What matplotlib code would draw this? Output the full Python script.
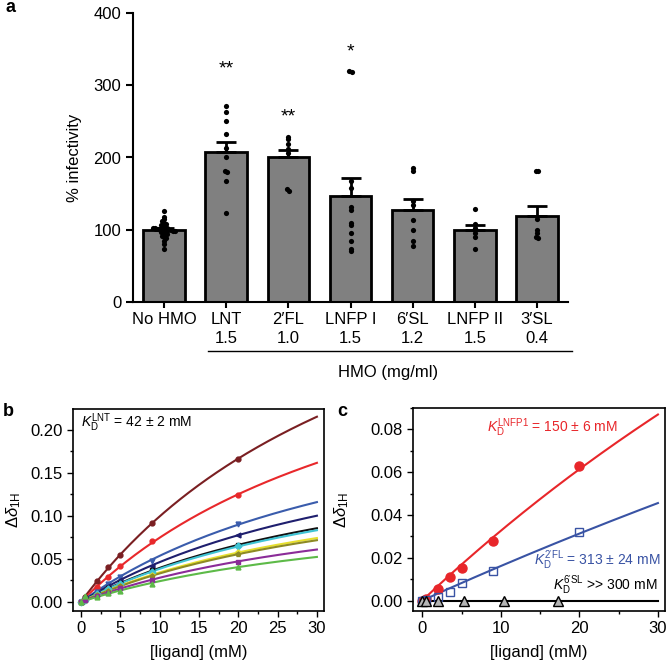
import numpy as np
import matplotlib
matplotlib.use("Agg")
import matplotlib.pyplot as plt
import matplotlib.transforms as mtrans
from matplotlib.ticker import MultipleLocator

plt.rcParams['font.family'] = ['Liberation Sans', 'DejaVu Sans']
plt.rcParams['mathtext.fontset'] = 'custom'
plt.rcParams['mathtext.rm'] = 'Liberation Sans'
plt.rcParams['mathtext.it'] = 'Liberation Sans:italic'
plt.rcParams['mathtext.bf'] = 'Liberation Sans:bold'

# ---- panel a data ----
hmo_names = ["No HMO", "LNT", "2\u2032FL", "LNFP I", "6\u2032SL", "LNFP II", "3\u2032SL"]
hmo_doses = ["", "1.5", "1.0", "1.5", "1.2", "1.5", "0.4"]
bar_means = [100, 208, 201, 147, 127, 100, 119]
bar_sem = [2, 14, 10, 24, 15, 7, 14]
stars = ["", "**", "**", "*", "", "", ""]
star_y = [0, 322, 256, 346, 0, 0, 0]
points_a = [
    [126, 118, 115, 112, 110, 108, 106, 105, 104, 103, 102, 102, 101, 101, 100,
     100, 100, 99, 99, 98, 98, 97, 96, 95, 94, 92, 90, 88, 84, 80, 73],
    [271, 263, 250, 232, 213, 201, 182, 180, 167, 123],
    [229, 226, 218, 212, 206, 156, 154],
    [320, 318, 167, 158, 132, 127, 110, 106, 95, 84, 73, 71],
    [186, 181, 140, 134, 113, 100, 84, 78],
    [129, 108, 103, 96, 90, 74],
    [182, 181, 115, 100, 95, 90, 88],
]

# ---- panel b data (LNT titration) ----
kd_lnt = 42
conc_b = [0, 0.5, 2, 3.5, 5, 9, 20]
shifts_b = [
    [0, 0.006, 0.024, 0.041, 0.055, 0.092, 0.166],
    [0, 0.004, 0.017, 0.029, 0.042, 0.071, 0.124],
    [0, 0.003, 0.012, 0.021, 0.029, 0.048, 0.091],
    [0, 0.003, 0.011, 0.019, 0.025, 0.042, 0.078],
    [0, 0.002, 0.009, 0.016, 0.022, 0.037, 0.066],
    [0, 0.002, 0.009, 0.015, 0.021, 0.035, 0.065],
    [0, 0.002, 0.008, 0.013, 0.019, 0.031, 0.058],
    [0, 0.002, 0.008, 0.013, 0.018, 0.030, 0.056],
    [0, 0.002, 0.007, 0.011, 0.016, 0.026, 0.047],
    [0, 0.007, 0.006, 0.010, 0.013, 0.021, 0.041],
]
colors_b = ["#7a1f22", "#e8282b", "#3a5cac", "#1f1f6e", "#111111",
            "#40c4d4", "#e6df2e", "#8d8a24", "#8b2c98", "#5dba48"]
markers_b = ["o", "o", "v", "<", "s", "D", "p", "p", "s", "^"]

# ---- panel c data ----
conc_c = [0, 0.5, 2, 3.5, 5, 9, 20]
shift_lnfp1 = [0, 0.0005, 0.0053, 0.011, 0.015, 0.028, 0.063]
shift_2fl = [0, 0.0003, 0.0017, 0.004, 0.0082, 0.0139, 0.0321]
conc_6sl = [0, 0.5, 2, 5.3, 10.4, 17.3]
shift_6sl = [0, 0, 0, 0, 0, 0]
kd_c = [150, 313, 300]


def fit_amp(x, y, kd):
    # least squares amplitude for one-site binding with fixed KD
    x = np.asarray(x, float)
    y = np.asarray(y, float)
    f = x / (kd + x)
    return np.sum(y * f) / np.sum(f * f)


fig = plt.figure(figsize=(6.68, 6.65), dpi=100)

# ================= panel a =================
ax = fig.add_axes([133 / 668, 1 - 302 / 665, (568 - 133) / 668, 289 / 665])
xpos = np.arange(len(hmo_names))
ax.bar(xpos, bar_means, width=0.67, color="#808080", edgecolor="black", linewidth=2, zorder=1)
ax.errorbar(xpos, bar_means, yerr=[np.zeros(len(bar_sem)), bar_sem], fmt="none",
            ecolor="black", elinewidth=2, capsize=7.5, capthick=2, zorder=2)
for i, vals in enumerate(points_a):
    vals = np.asarray(vals, float)
    # simple swarm: spread points that fall in the same small bin
    offs = np.zeros(len(vals))
    bins = np.round(vals / 5)
    for b in np.unique(bins):
        idx = np.where(bins == b)[0]
        n = len(idx)
        offs[idx] = (np.arange(n) - (n - 1) / 2) * 0.035
    ax.scatter(xpos[i] + offs, vals, s=14, color="black", zorder=3, linewidths=0)
    if stars[i]:
        ax.text(xpos[i], star_y[i], stars[i], ha="center", va="center", fontsize=14)

ax.set_xlim(-0.5, 6.5)
ax.set_ylim(0, 400)
ax.set_yticks([0, 100, 200, 300, 400])
ax.set_xticks(xpos)
ax.set_xticklabels(hmo_names)
ax.tick_params(labelsize=12, width=1.5, length=5, direction="out")
ax.tick_params(axis="x", length=4, pad=3)
ax.spines["top"].set_visible(False)
ax.spines["right"].set_visible(False)
ax.spines["left"].set_linewidth(1.5)
ax.spines["bottom"].set_linewidth(1.5)
ax.set_ylabel("% infectivity", fontsize=12, labelpad=8)

trans = mtrans.blended_transform_factory(ax.transData, ax.transAxes)
for i, d in enumerate(hmo_doses):
    if d:
        ax.text(xpos[i], -0.128, d, ha="center", va="center", fontsize=12, transform=trans)
ax.plot([0.71, 6.56], [-0.17, -0.17], color="black", lw=1, transform=trans, clip_on=False)
ax.text(3.6, -0.243, "HMO (mg/ml)", ha="center", va="center", fontsize=12, transform=trans)

fig.text(5 / 668, 1 - 8 / 665, "a", fontsize=13, fontweight="bold", ha="left", va="center")

# ================= panel b =================
axb = fig.add_axes([73 / 668, 1 - 611 / 665, (324 - 73) / 668, (611 - 409) / 665])
xs = np.linspace(0, 30, 200)
for y, c, m in zip(shifts_b, colors_b, markers_b):
    amp = fit_amp(conc_b, y, kd_lnt)
    axb.plot(xs, amp * xs / (kd_lnt + xs), color=c, lw=1.5, zorder=2)
    axb.plot(conc_b, y, linestyle="none", marker=m, color=c, markersize=3.5, zorder=3)
axb.set_xlim(-1.0, 30.9)
axb.set_ylim(-0.0105, 0.2244)
axb.xaxis.set_major_locator(MultipleLocator(5))
axb.xaxis.set_minor_locator(MultipleLocator(2.5))
axb.yaxis.set_major_locator(MultipleLocator(0.05))
axb.yaxis.set_minor_locator(MultipleLocator(0.025))
axb.yaxis.set_major_formatter(matplotlib.ticker.FormatStrFormatter("%.2f"))
axb.tick_params(labelsize=12, direction="out", length=4, width=1)
axb.tick_params(which="minor", direction="out", length=2.5, width=1)
for s in axb.spines.values():
    s.set_linewidth(1.2)
axb.set_xlabel("[ligand] (mM)", fontsize=12, labelpad=6)
axb.set_ylabel(r"$\Delta\delta_{\rm 1H}$", fontsize=12)
axb.yaxis.set_label_coords(-0.2, 0.5)
axb.text(0.0, 0.209, r"$K_{\rm D}^{\rm LNT}$ = 42 $\pm$ 2 mM", fontsize=10, va="center")
fig.text(3 / 668, 1 - 412 / 665, "b", fontsize=13, fontweight="bold", ha="left", va="center")

# ================= panel c =================
axc = fig.add_axes([413 / 668, 1 - 611 / 665, (665 - 413) / 668, (611 - 408) / 665])
xs = np.linspace(0, 30, 200)
amp_r = fit_amp(conc_c, shift_lnfp1, kd_c[0])
amp_b = fit_amp(conc_c, shift_2fl, kd_c[1])
amp_k = fit_amp(conc_6sl, shift_6sl, kd_c[2])
axc.plot(xs, amp_k * xs / (kd_c[2] + xs), color="black", lw=1.5, zorder=2)
axc.plot(xs, amp_b * xs / (kd_c[1] + xs), color="#3953a4", lw=1.5, zorder=2)
axc.plot(xs, amp_r * xs / (kd_c[0] + xs), color="#e8262a", lw=1.5, zorder=2)
axc.plot(conc_c, shift_lnfp1, "o", color="#e8262a", markersize=6.5, zorder=3)
axc.plot(conc_c, shift_2fl, "s", mfc="none", mec="#3953a4", mew=1.0, markersize=6, zorder=3)
axc.plot(conc_6sl, shift_6sl, "^", mfc="#b5b5b5", mec="black", mew=1.0, markersize=6.5, zorder=4)
axc.set_xlim(-1.18, 30.9)
axc.set_ylim(-0.0049, 0.09)
axc.xaxis.set_major_locator(MultipleLocator(10))
axc.xaxis.set_minor_locator(MultipleLocator(5))
axc.yaxis.set_major_locator(MultipleLocator(0.02))
axc.yaxis.set_minor_locator(MultipleLocator(0.01))
axc.yaxis.set_major_formatter(matplotlib.ticker.FormatStrFormatter("%.2f"))
axc.tick_params(labelsize=12, direction="out", length=4, width=1)
axc.tick_params(which="minor", direction="out", length=2.5, width=1)
for s in axc.spines.values():
    s.set_linewidth(1.2)
axc.set_xlabel("[ligand] (mM)", fontsize=12, labelpad=6)
axc.set_ylabel(r"$\Delta\delta_{\rm 1H}$", fontsize=12)
axc.yaxis.set_label_coords(-0.245, 0.5)
axc.text(8.2, 0.081, r"$K_{\rm D}^{\rm LNFP1}$ = 150 $\pm$ 6 mM", color="#e8262a", fontsize=10, va="center")
axc.text(14.2, 0.0189, r"$K_{\rm D}^{\rm 2'FL}$ = 313 $\pm$ 24 mM", color="#3953a4", fontsize=10, va="center")
axc.text(16.6, 0.0072, r"$K_{\rm D}^{\rm 6'SL}$ >> 300 mM", color="black", fontsize=10, va="center")
fig.text(337 / 668, 1 - 412 / 665, "c", fontsize=13, fontweight="bold", ha="left", va="center")

fig.savefig("out.png", dpi=100)
